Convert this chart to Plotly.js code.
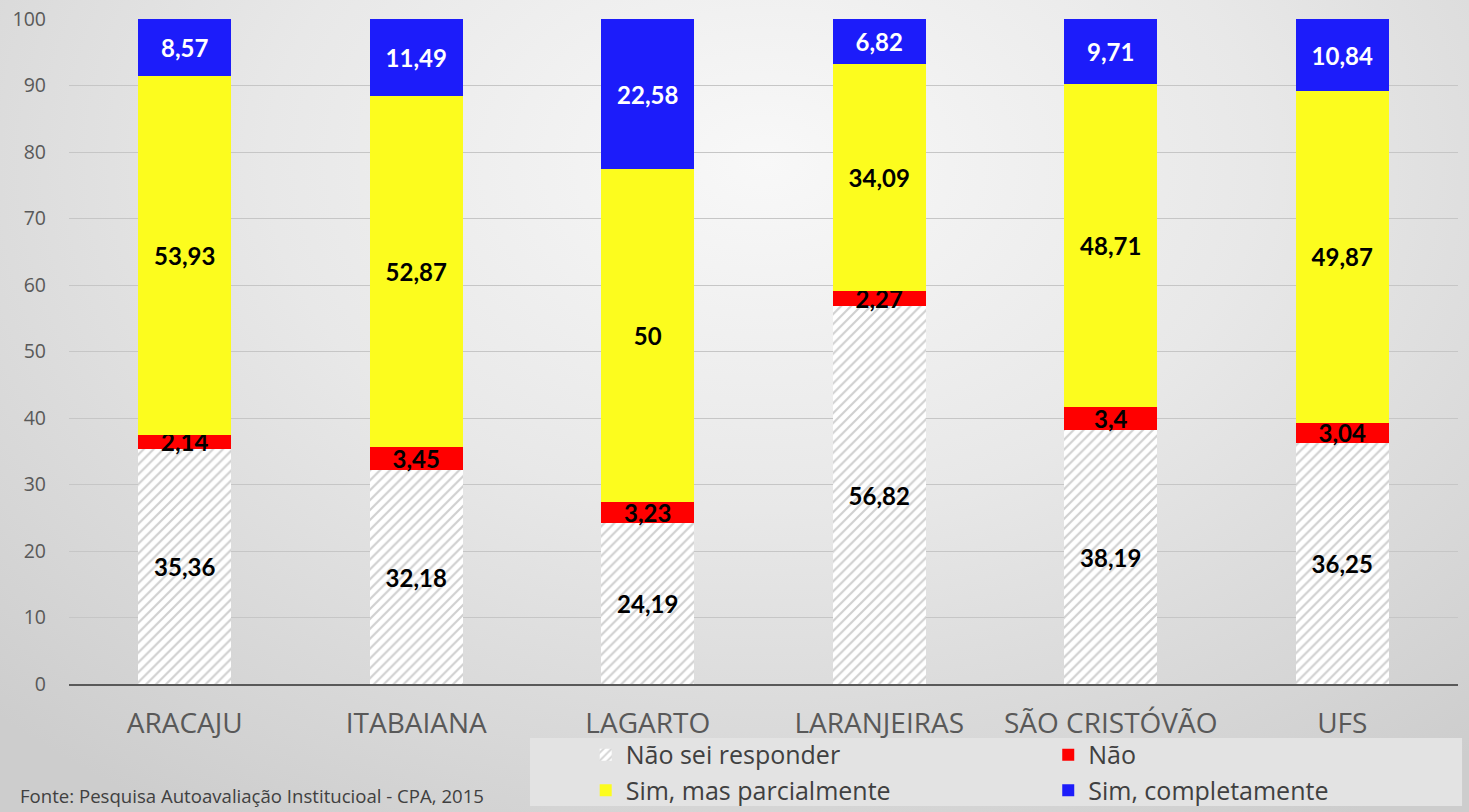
<!DOCTYPE html>
<html>
<head>
<meta charset="utf-8">
<script src="https://cdn.plot.ly/plotly-3.0.1.min.js"></script>
<style>
html,body{margin:0;padding:0;}
body{width:1469px;height:812px;background:radial-gradient(ellipse 75% 95% at 52% 20%, #f8f8f8 0%, #e8e8e8 45%, #cdcdcd 100%);}
#chart{width:1469px;height:812px;}
</style>
</head>
<body>
<div id="chart"></div>
<script>
const categories = ["ARACAJU", "ITABAIANA", "LAGARTO", "LARANJEIRAS", "SÃO CRISTÓVÃO", "UFS"];
const naoSei = [35.36, 32.18, 24.19, 56.82, 38.19, 36.25];
const nao = [2.14, 3.45, 3.23, 2.27, 3.4, 3.04];
const simParcial = [53.93, 52.87, 50, 34.09, 48.71, 49.87];
const simCompleto = [8.57, 11.49, 22.58, 6.82, 9.71, 10.84];
const seriesNames = ["Não sei responder", "Não", "Sim, mas parcialmente", "Sim, completamente"];
const yTicks = [0, 10, 20, 30, 40, 50, 60, 70, 80, 90, 100];
const sourceNote = "Fonte: Pesquisa Autoavaliação Institucioal - CPA, 2015";

const fmt = v => String(v).replace('.', ',');
const LABELFONT = 'Lato, "Open Sans", sans-serif';
const FONT = '"Open Sans", "Noto Sans", sans-serif';

function mk(name, vals, color, textColor, extra) {
  return Object.assign({
    type: 'bar', name: name, x: categories, y: vals,
    text: vals.map(fmt), textposition: 'inside', insidetextanchor: 'middle',
    constraintext: 'none', textangle: 0, cliponaxis: false,
    textfont: {family: LABELFONT, size: 24, color: textColor, weight: 'bold'},
    marker: {color: color, line: {width: 0}},
    hoverinfo: 'skip'
  }, extra || {});
}

const data = [
  mk(seriesNames[0], naoSei, 'white', 'black', {
    legend: 'legend',
    marker: {color: 'white', line: {width: 0},
      pattern: {shape: '/', fgcolor: '#d0d0d0', bgcolor: 'white', size: 7, solidity: 0.3, fillmode: 'replace'}}
  }),
  mk(seriesNames[1], nao, '#ff0000', 'black', {legend: 'legend2'}),
  mk(seriesNames[2], simParcial, '#fcfc1e', 'black', {legend: 'legend'}),
  mk(seriesNames[3], simCompleto, '#1c1cfa', 'white', {legend: 'legend2'})
];

const legendBase = {
  orientation: 'v', xanchor: 'left', y: -0.072, yanchor: 'top',
  bgcolor: 'rgba(0,0,0,0)', traceorder: 'normal',
  font: {family: FONT, size: 25, color: '#404040'}, itemclick: false, itemdoubleclick: false,
  tracegroupgap: 0
};

const layout = {
  width: 1469, height: 812,
  paper_bgcolor: 'rgba(0,0,0,0)', plot_bgcolor: 'rgba(0,0,0,0)',
  margin: {l: 69, r: 11, t: 19, b: 128, autoexpand: false},
  barmode: 'stack', bargap: 0.6,
  font: {family: FONT, color: '#595959'},
  xaxis: {
    type: 'category', showgrid: false, showline: true, linecolor: '#595959', linewidth: 2,
    ticks: '', tickfont: {family: FONT, size: 28, color: '#595959'}, ticklabelstandoff: 13,
    zeroline: false
  },
  yaxis: {
    range: [0, 100.02], tickvals: yTicks, showgrid: true, gridcolor: '#c6c6c6', gridwidth: 1,
    zeroline: false, showline: false, ticks: '', ticklabelstandoff: 22,
    tickfont: {family: FONT, size: 19.5, color: '#595959'}
  },
  showlegend: true,
  legend: Object.assign({}, legendBase, {x: 0.372}),
  legend2: Object.assign({}, legendBase, {x: 0.705}),
  shapes: [{
    type: 'rect', xref: 'paper', yref: 'paper', layer: 'below',
    x0: 0.3319, x1: 1.0029, y0: -0.1835, y1: -0.0812,
    fillcolor: '#e3e3e3', line: {width: 0}
  }],
  annotations: [{
    text: sourceNote, xref: 'paper', yref: 'paper', x: -0.0367, xanchor: 'left',
    y: -0.167, yanchor: 'middle', showarrow: false,
    font: {family: FONT, size: 18.6, color: '#404040'}
  }]
};

Plotly.newPlot('chart', data, layout, {displayModeBar: false, staticPlot: true});
</script>
</body>
</html>
